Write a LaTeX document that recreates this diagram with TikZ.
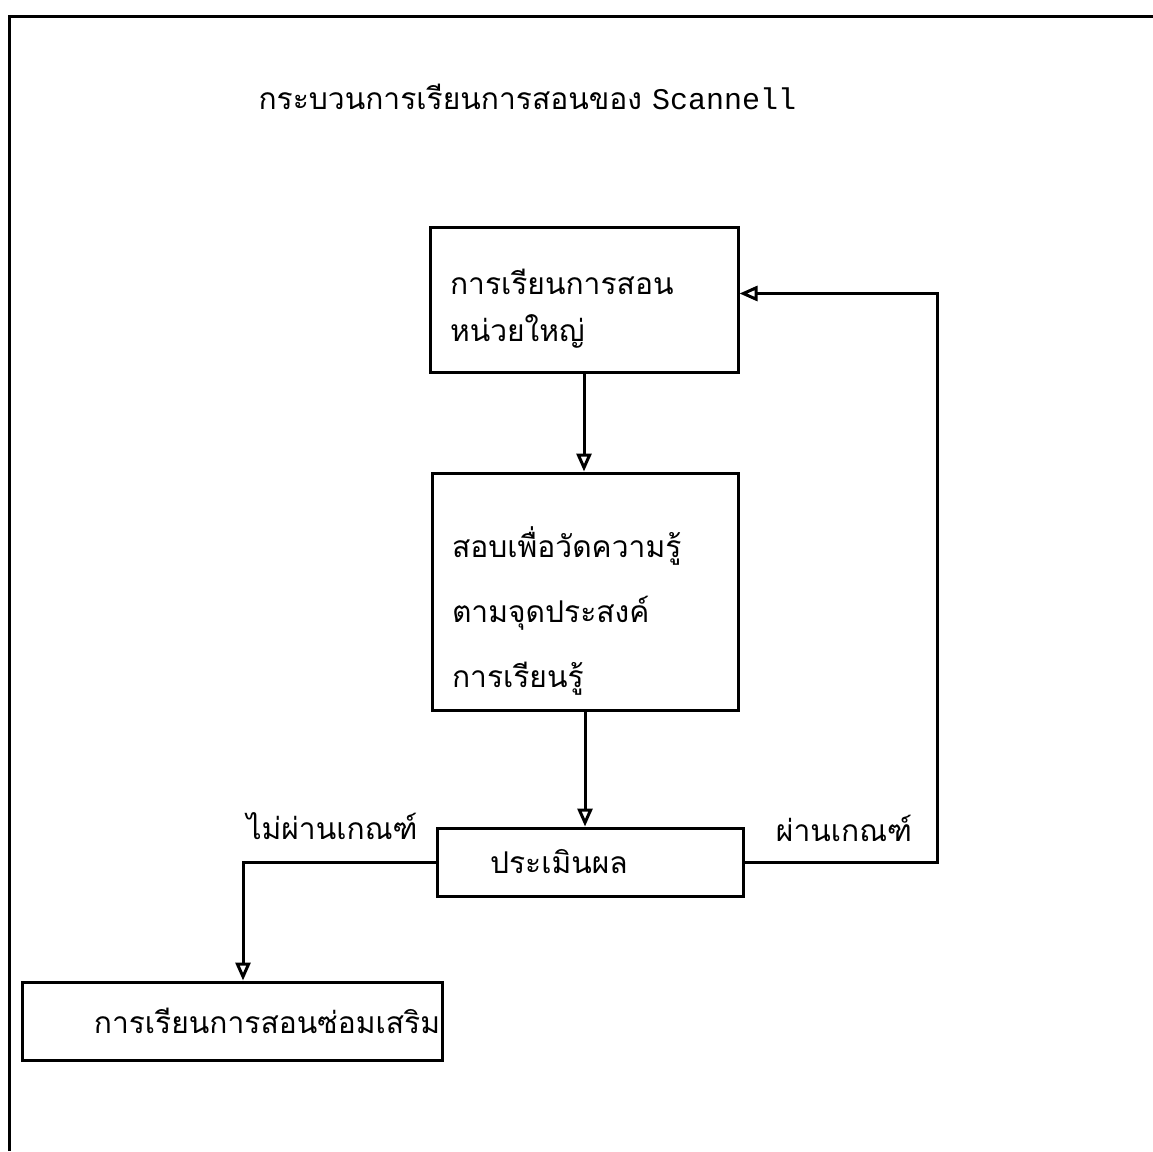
\documentclass[tikz,border=0pt]{standalone}
\usepackage{fontspec}
\newfontfamily\thaifont[Script=Thai]{Loma}
\newfontfamily\typefont{Liberation Mono}
\usetikzlibrary{arrows.meta,positioning}

\begin{document}
\begin{tikzpicture}[
    x=1pt, y=-1pt,
    box/.style={draw, line width=3pt, inner xsep=20pt, inner ysep=0pt, align=left,
                font=\thaifont\fontsize{30}{47}\selectfont},
    arrow/.style={-{Triangle[open, length=18pt, width=15pt]}, line width=3pt},
    elabel/.style={font=\thaifont\fontsize{30}{36}\selectfont, inner sep=0pt},
]
\useasboundingbox (0,0) rectangle (1153,1151);

% ── Page frame ──
\draw[line width=3pt] (9,1151) -- (9,16) -- (1153,16);

% ── Title ──
\node[anchor=west, font=\thaifont\fontsize{30}{36}\selectfont] (title) at (255,97)
    {กระบวนการเรียนการสอนของ {\typefont\fontsize{30}{36}\selectfont Scannell}};

% ── Column of steps ──
\node[box, text width=268pt, text height=43pt, minimum height=145pt] (teach) at (584,299.5)
    {การเรียนการสอน\\หน่วยใหญ่};
\node[box, text width=266pt, text height=70pt, minimum height=237pt, below=98pt of teach,
      xshift=1pt, font=\thaifont\fontsize{30}{65}\selectfont] (test)
    {สอบเพื่อวัดความรู้\\ตามจุดประสงค์\\การเรียนรู้};
\node[box, inner xsep=53pt, text width=200pt, minimum height=68pt, below=115pt of test,
      xshift=5pt] (eval) {ประเมินผล};

% ── Remedial step ──
\node[box, inner xsep=2pt, text width=416pt, minimum height=78pt, align=right] (fix)
    at (232,1021) {การเรียนการสอนซ่อมเสริม};

% ── Arrows ──
\coordinate (rloop) at (937,600);
\draw[arrow] (teach.south) -- (teach.south |- test.north);
\draw[arrow] (test.south) -- (test.south |- eval.north);
\draw[arrow] (eval.east) -- (eval.east -| rloop) |- ([yshift=6pt]teach.east);
\draw[arrow] (eval.west) -| ([xshift=11pt]fix.north);

% ── Edge labels ──
\node[elabel] (fail) at (332,826) {ไม่ผ่านเกณฑ์};
\node[elabel] (pass) at (844,828) {ผ่านเกณฑ์};

\end{tikzpicture}
\end{document}
